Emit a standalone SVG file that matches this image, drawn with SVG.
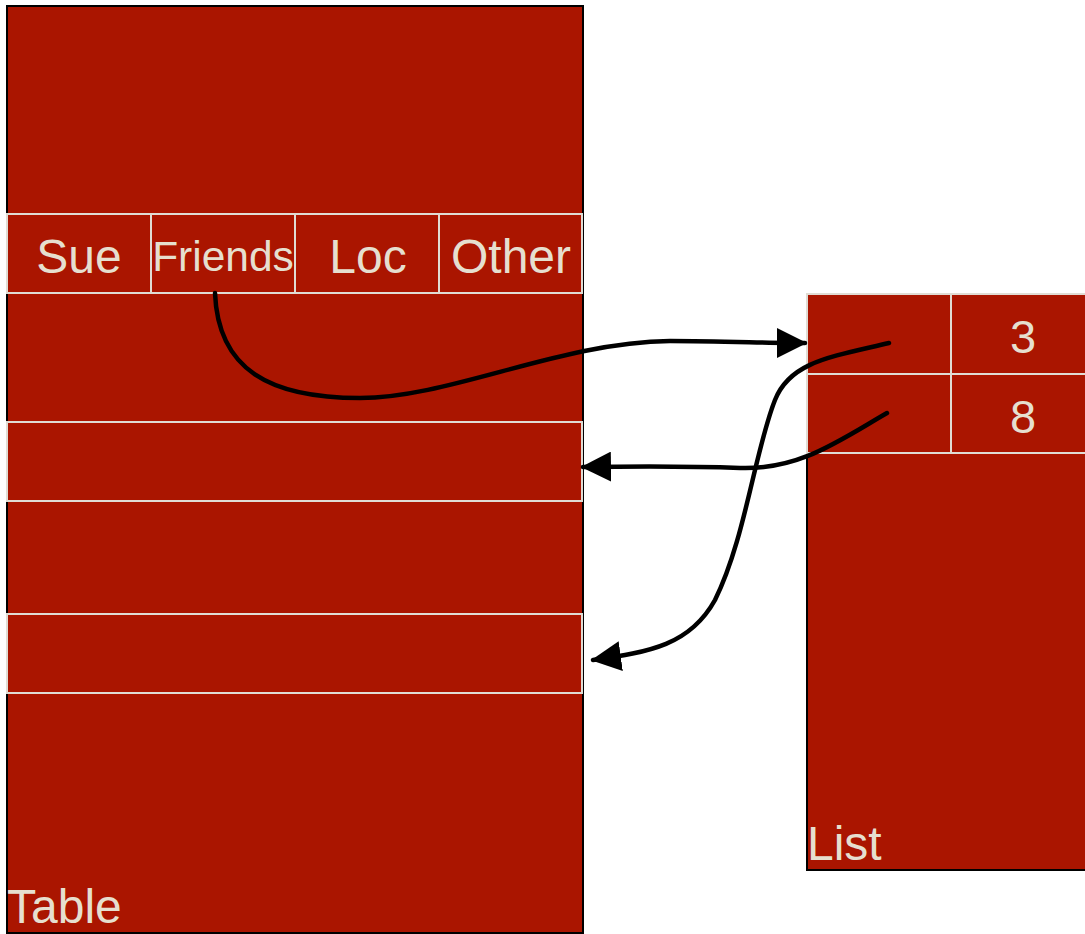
<svg xmlns="http://www.w3.org/2000/svg" width="1085" height="934" viewBox="0 0 1085 934">
  <style>
    .box { fill: #aa1500; stroke: #000; stroke-width: 2; }
    .cell { fill: #aa1500; stroke: #e0dcd4; stroke-width: 2; }
    .lbl { font-family: "Liberation Sans", Arial, sans-serif; fill: #e6dfcf; }
    .mid { text-anchor: middle; }
    .link { fill: none; stroke: #000; stroke-width: 4.5; stroke-linecap: round; }
  </style>
  <defs>
    <marker id="arrow" viewBox="0 0 30 30" refX="28" refY="15" markerWidth="30" markerHeight="30" markerUnits="userSpaceOnUse" orient="auto">
      <path d="M0,0 L30,15 L0,30 Z" fill="#000"/>
    </marker>
  </defs>
  <rect width="1085" height="934" fill="#fff"/>

  <g id="table">
    <rect class="box" x="7" y="6" width="576" height="927"/>
    <g id="table-header">
      <rect class="cell" x="7" y="214" width="144" height="79"/>
      <rect class="cell" x="151" y="214" width="144" height="79"/>
      <rect class="cell" x="295" y="214" width="144" height="79"/>
      <rect class="cell" x="439" y="214" width="143" height="79"/>
      <text class="lbl mid" x="79" y="273" font-size="48">Sue</text>
      <text class="lbl mid" x="223" y="271" font-size="42.5">Friends</text>
      <text class="lbl mid" x="368" y="273" font-size="48">Loc</text>
      <text class="lbl mid" x="511" y="273" font-size="48">Other</text>
    </g>
    <rect id="row-a" class="cell" x="7" y="422" width="575" height="79"/>
    <rect id="row-b" class="cell" x="7" y="614" width="575" height="79"/>
    <text class="lbl" x="7" y="923" font-size="48">Table</text>
  </g>

  <g id="list">
    <rect class="box" x="807" y="294" width="290" height="576"/>
    <rect class="cell" x="807" y="294" width="144" height="80"/>
    <rect class="cell" x="951" y="294" width="146" height="80"/>
    <rect class="cell" x="807" y="374" width="144" height="79"/>
    <rect class="cell" x="951" y="374" width="146" height="79"/>
    <text class="lbl mid" x="1023" y="353" font-size="47">3</text>
    <text class="lbl mid" x="1023" y="433" font-size="47">8</text>
    <text class="lbl" x="807" y="860" font-size="48">List</text>
  </g>

  <g id="connectors">
    <path class="link" marker-end="url(#arrow)" d="M215,293 C218,370 270,398 360,398 C450,398 560,342 670,341 C720,341 770,343 805,343"/>
    <path class="link" marker-end="url(#arrow)" d="M887,413 C840,440 800,470 740,468 C690,466 650,466 583,467"/>
    <path class="link" marker-end="url(#arrow)" d="M889,343 C830,357 790,362 775,400 C755,450 745,540 715,600 C690,645 650,652 593,660"/>
  </g>
</svg>
